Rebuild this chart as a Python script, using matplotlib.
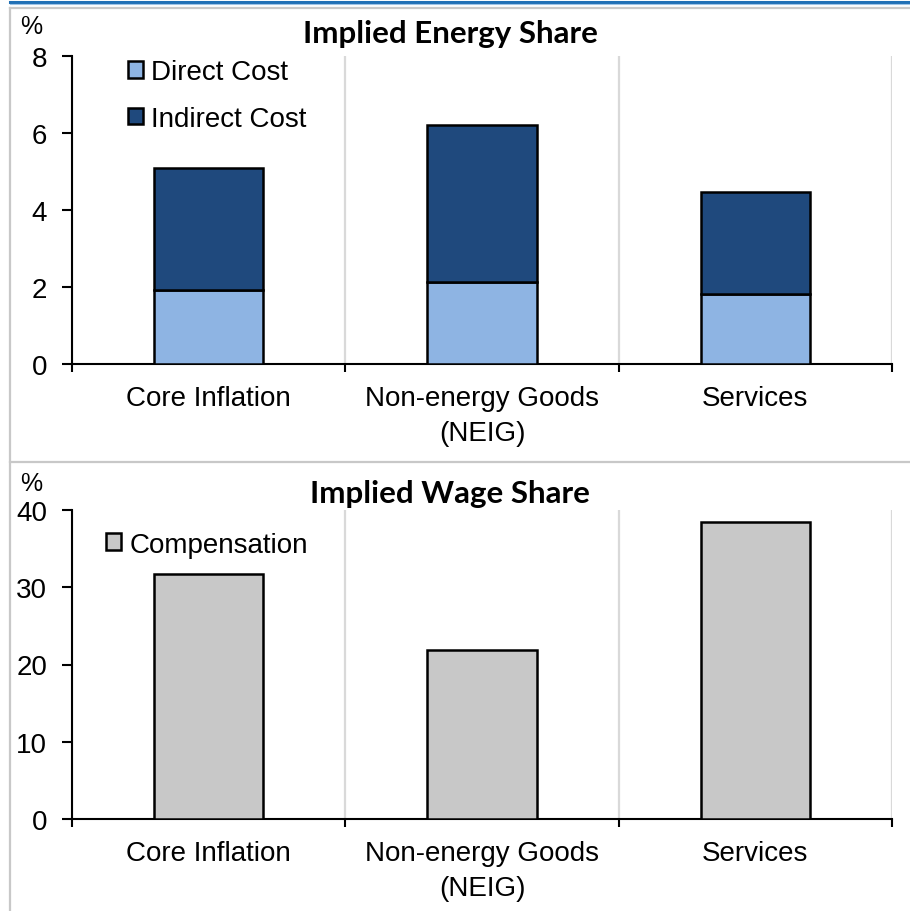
"""
Implied energy share and implied wage share of core inflation components.
Two stacked panels drawn with matplotlib and saved to out.png.
"""

import matplotlib
matplotlib.use("Agg")
import matplotlib.pyplot as plt
from matplotlib.lines import Line2D
from matplotlib.ticker import FixedLocator

# data
categories = ["Core Inflation", "Non-energy Goods\n(NEIG)", "Services"]
direct_cost = [1.93, 2.13, 1.83]
indirect_cost = [3.17, 4.07, 2.65]
compensation = [31.7, 21.9, 38.5]

energy_ticks = [0, 2, 4, 6, 8]
wage_ticks = [0, 10, 20, 30, 40]

DIRECT_COLOR = "#8EB4E3"
INDIRECT_COLOR = "#1F497D"
COMP_COLOR = "#C8C8C8"
GRID_COLOR = "#D9D9D9"
FRAME_COLOR = "#C8C8C8"

W, H = 910, 912
FS = 20


def style_axis(ax, yticks):
    x = list(range(len(categories)))
    ax.set_xlim(-0.5, len(categories) - 0.5)
    ax.set_ylim(yticks[0], yticks[-1])
    ax.set_yticks(yticks)
    ax.set_xticks(x)
    ax.set_xticklabels(categories, linespacing=1.45)
    ax.xaxis.set_minor_locator(FixedLocator([i - 0.5 for i in range(len(categories) + 1)]))

    for side in ["top", "right"]:
        ax.spines[side].set_visible(False)
    for side in ["left", "bottom"]:
        ax.spines[side].set_linewidth(1.5)

    ax.tick_params(axis="y", direction="out", length=7, width=1.5, pad=11,
                   labelsize=FS)
    ax.tick_params(axis="x", which="major", length=0, pad=15, labelsize=FS)
    ax.tick_params(axis="x", which="minor", direction="out", length=6, width=1.5)

    # light vertical separators between categories
    ax.grid(which="minor", axis="x", color=GRID_COLOR, linewidth=1.6)
    ax.set_axisbelow(True)


def main():
    plt.rcParams["font.family"] = ["Liberation Sans", "DejaVu Sans"]

    fig = plt.figure(figsize=(W / 100, H / 100), dpi=100)

    ax_top = fig.add_axes([72 / W, 1 - 365 / H, 820 / W, 308 / H])
    ax_bot = fig.add_axes([72 / W, 1 - 820 / H, 820 / W, 309 / H])

    x = list(range(len(categories)))

    # top panel: stacked energy cost shares
    ax_top.bar(x, direct_cost, width=0.4, color=DIRECT_COLOR,
               edgecolor="black", linewidth=1.8, label="Direct Cost", zorder=3)
    ax_top.bar(x, indirect_cost, width=0.4, bottom=direct_cost, color=INDIRECT_COLOR,
               edgecolor="black", linewidth=1.8, label="Indirect Cost", zorder=3)
    style_axis(ax_top, energy_ticks)
    ax_top.legend(loc="upper left", bbox_to_anchor=(0.068, 0.99), frameon=False,
                  fontsize=FS, handlelength=0.55, handleheight=0.55,
                  handletextpad=0.3, labelspacing=0.75, borderpad=0,
                  borderaxespad=0)

    # bottom panel: wage share
    ax_bot.bar(x, compensation, width=0.4, color=COMP_COLOR,
               edgecolor="black", linewidth=1.8, label="Compensation", zorder=3)
    style_axis(ax_bot, wage_ticks)
    ax_bot.legend(loc="upper left", bbox_to_anchor=(0.041, 0.93), frameon=False,
                  fontsize=FS, handlelength=0.55, handleheight=0.55,
                  handletextpad=0.3, borderpad=0, borderaxespad=0)

    # titles and unit labels
    title_kw = dict(ha="center", va="center", fontsize=22.5, fontweight="bold",
                    family=["Lato", "DejaVu Sans"])
    fig.text(450 / W, 1 - 34 / H, "Implied Energy Share", **title_kw)
    fig.text(450 / W, 1 - 494 / H, "Implied Wage Share", **title_kw)
    fig.text(31 / W, 1 - 27 / H, "%", ha="center", va="center", fontsize=18)
    fig.text(31 / W, 1 - 484 / H, "%", ha="center", va="center", fontsize=18)

    # frame lines around the panels
    def hline(y, x0, x1, color, lw):
        fig.add_artist(Line2D([x0 / W, x1 / W], [1 - y / H, 1 - y / H],
                              transform=fig.transFigure, color=color, linewidth=lw))

    hline(3, 10, W, "#1F6FB5", 2.2)
    hline(5, 10, W, "#9DC3E6", 0.8)
    hline(9, 10, W, FRAME_COLOR, 1.6)
    hline(463, 10, W, FRAME_COLOR, 1.6)
    fig.add_artist(Line2D([10 / W, 10 / W], [0, 1 - 9 / H],
                          transform=fig.transFigure, color=FRAME_COLOR, linewidth=1.6))

    plt.savefig("out.png", dpi=100)


if __name__ == "__main__":
    main()
